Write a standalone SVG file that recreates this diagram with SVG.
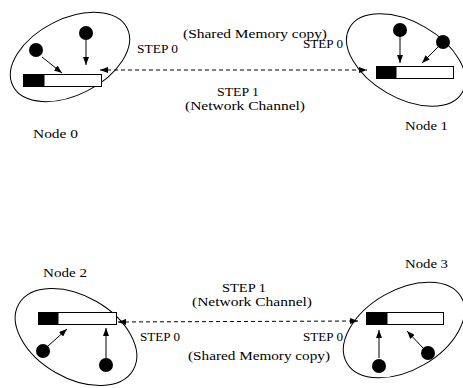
<svg xmlns="http://www.w3.org/2000/svg" width="463" height="388" viewBox="0 0 463 388">
<defs>
<marker id="ah" viewBox="0 0 8 6" refX="8" refY="3" markerWidth="8" markerHeight="6" markerUnits="userSpaceOnUse" orient="auto-start-reverse">
<path d="M0,0 L8,3 L0,6 Z" fill="#000"/>
</marker>
</defs>
<style>
.el{fill:none;stroke:#000;stroke-width:1}
.bar{fill:#fff;stroke:#000;stroke-width:1}
.blk{fill:#000}
.dot{fill:#000}
.arr{stroke:#000;stroke-width:1;fill:none;marker-end:url(#ah)}
.dash{stroke:#000;stroke-width:1;fill:none;stroke-dasharray:4 3;marker-start:url(#ah);marker-end:url(#ah)}
text{font-family:"Liberation Serif","Times New Roman",serif;font-size:12px;fill:#000}
</style>
<g id="node0">
<ellipse class="el" cx="70" cy="57" rx="64" ry="38" transform="rotate(-27 70 57)"/>
<rect class="bar" x="23.5" y="74.5" width="78" height="12"/>
<rect class="blk" x="23.5" y="74.5" width="21" height="12"/>
<circle class="dot" cx="36" cy="50" r="7"/>
<circle class="dot" cx="86" cy="33" r="7"/>
<line class="arr" x1="42" y1="57" x2="62" y2="73"/>
<line class="arr" x1="86" y1="40" x2="86" y2="65"/>
<text x="33" y="138" textLength="45" lengthAdjust="spacingAndGlyphs">Node 0</text>
</g>
<g id="node1">
<ellipse class="el" cx="406" cy="60" rx="65" ry="38" transform="rotate(30 406 60)"/>
<rect class="bar" x="376.5" y="66.5" width="77" height="12"/>
<rect class="blk" x="376.5" y="66.5" width="20" height="12"/>
<circle class="dot" cx="400" cy="30" r="7"/>
<circle class="dot" cx="443" cy="42" r="7"/>
<line class="arr" x1="400" y1="37" x2="400" y2="63"/>
<line class="arr" x1="438" y1="47" x2="422" y2="63"/>
<text x="405" y="130" textLength="43" lengthAdjust="spacingAndGlyphs">Node 1</text>
</g>
<g id="node2">
<ellipse class="el" cx="76" cy="337" rx="66" ry="41" transform="rotate(30 76 337)"/>
<rect class="bar" x="38.5" y="312.5" width="78" height="12"/>
<rect class="blk" x="38.5" y="312.5" width="20" height="12"/>
<circle class="dot" cx="43" cy="351" r="7"/>
<circle class="dot" cx="106" cy="365" r="7"/>
<line class="arr" x1="48" y1="346" x2="67" y2="329"/>
<line class="arr" x1="106" y1="358" x2="106" y2="328"/>
<text x="43" y="277" textLength="44" lengthAdjust="spacingAndGlyphs">Node 2</text>
</g>
<g id="node3">
<ellipse class="el" cx="404" cy="330" rx="66" ry="40" transform="rotate(-30 404 330)"/>
<rect class="bar" x="366.5" y="312.5" width="77" height="12"/>
<rect class="blk" x="366.5" y="312.5" width="21" height="12"/>
<circle class="dot" cx="379" cy="366" r="7"/>
<circle class="dot" cx="428" cy="353" r="7"/>
<line class="arr" x1="379" y1="358" x2="379" y2="330"/>
<line class="arr" x1="423" y1="348" x2="407" y2="331"/>
<text x="405" y="268" textLength="43" lengthAdjust="spacingAndGlyphs">Node 3</text>
</g>
<g id="connectors">
<line class="dash" x1="100" y1="70" x2="367" y2="70"/>
<line class="dash" x1="118" y1="322" x2="358" y2="321"/>
</g>
<g id="labels">
<text x="183" y="38" textLength="144" lengthAdjust="spacingAndGlyphs">(Shared Memory copy)</text>
<text x="137" y="53" textLength="41" lengthAdjust="spacingAndGlyphs">STEP 0</text>
<text x="303" y="48" textLength="40" lengthAdjust="spacingAndGlyphs">STEP 0</text>
<text x="217" y="96" textLength="42" lengthAdjust="spacingAndGlyphs">STEP 1</text>
<text x="185" y="110" textLength="120" lengthAdjust="spacingAndGlyphs">(Network Channel)</text>
<text x="222" y="292" textLength="44" lengthAdjust="spacingAndGlyphs">STEP 1</text>
<text x="192" y="306" textLength="120" lengthAdjust="spacingAndGlyphs">(Network Channel)</text>
<text x="140" y="341" textLength="40" lengthAdjust="spacingAndGlyphs">STEP 0</text>
<text x="303" y="341" textLength="40" lengthAdjust="spacingAndGlyphs">STEP 0</text>
<text x="188" y="360" textLength="142" lengthAdjust="spacingAndGlyphs">(Shared Memory copy)</text>
</g>
</svg>
